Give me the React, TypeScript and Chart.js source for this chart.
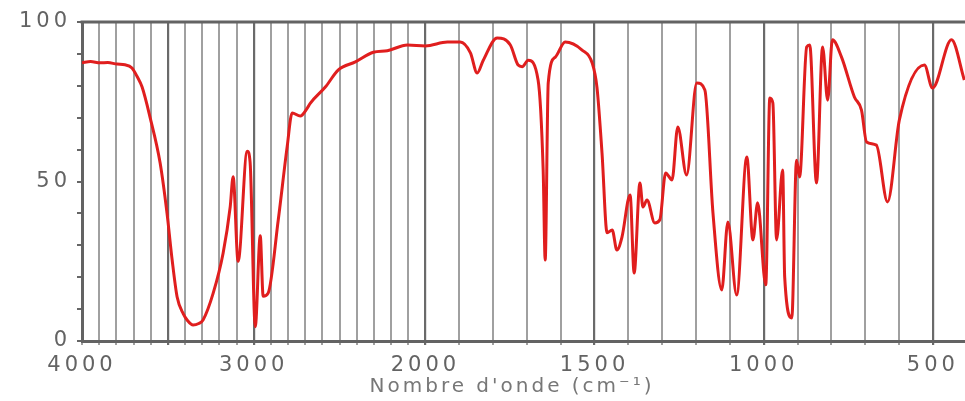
import { useEffect, useRef } from 'react';
import { Chart, registerables } from 'chart.js';

Chart.register(...registerables);

// Wavenumbers (cm-1) and transmittance (%)
const wavenumbers = [
  4000, 3950, 3895, 3850, 3796, 3750, 3709, 3680, 3650, 3604,
  3545, 3505, 3475, 3446, 3410, 3388, 3353, 3320, 3295, 3236,
  3178, 3137, 3120, 3091, 3038, 3021, 2991, 2962, 2945, 2916,
  2857, 2805, 2776, 2729, 2688, 2671, 2583, 2507, 2408, 2303,
  2222, 2105, 2000, 1935, 1897, 1867, 1847, 1829, 1788, 1749,
  1726, 1714, 1696, 1667, 1652, 1646, 1637, 1616, 1587, 1537,
  1507, 1493, 1478, 1463, 1448, 1434, 1419, 1395, 1383, 1366,
  1357, 1345, 1322, 1307, 1290, 1271, 1254, 1228, 1198, 1174,
  1150, 1124, 1106, 1080, 1050, 1032, 1018, 994, 982, 973,
  962, 944, 938, 917, 903, 894, 873, 864, 844, 826,
  811, 797, 770, 732, 711, 696, 667, 634, 599, 525,
  501, 445, 407,
];
const transmittance = [
  87.2, 87.6, 87.2, 87.3, 86.8, 86.6, 85.6, 83, 79.6, 70.2,
  55.8, 40.1, 25.4, 13.8, 8.5, 6.6, 5.0, 5.5, 6.6, 15,
  27.6, 42, 51.5, 25, 59.5, 56, 4.5, 33, 14, 15,
  38, 61, 71.5, 70.5, 73, 74.5, 79.6, 85, 87.5, 90.5,
  91, 92.8, 92.5, 93.7, 93.7, 90.3, 84, 88, 95, 92.8,
  86.5, 86, 88, 81.8, 53.6, 25.4, 80.9, 89, 93.7, 91.2,
  87.1, 79.6, 58.9, 33.9, 34.8, 28.5, 32.6, 45.8, 21.3, 49.5,
  42, 44.2, 37, 38, 52.7, 50.5, 67.1, 52, 80.9, 78.7,
  40.1, 16, 37.3, 14.4, 57.7, 31.7, 43.3, 17.6, 76.2, 74.6,
  31.7, 53.6, 20, 7.2, 56.7, 51.4, 92.2, 92.8, 49.5, 92.2,
  75.5, 94.4, 89, 76.5, 72.4, 62.4, 61.4, 43.6, 69.3, 86.5,
  79.3, 94.4, 81.8,
];

// Vertical grid lines (cm-1) and labelled ticks
const gridWavenumbers = [
  4000, 3900, 3800, 3700, 3600, 3500, 3400, 3300, 3200, 3100,
  3000, 2900, 2800, 2700, 2600, 2500, 2400, 2300, 2200, 2100,
  2000, 1900, 1800, 1700, 1600, 1500, 1400, 1300, 1200, 1100,
  1000, 900, 800, 700, 600, 500,
];
const xTickLabels = [4000, 3000, 2000, 1500, 1000, 500];
const majorGrid = [3500, 3000, 2000, 1500, 1000, 500];
const yTickLabels = [0, 50, 100];
const xMinWavenumber = 405;

// Spectrometer scale change at 2000 cm-1 (expanded below 2000)
const EXPAND = 1.97;
const toU = (w: number) => (w >= 2000 ? 4000 - w : 2000 + (2000 - w) * EXPAND);
const fromU = (u: number) => (u <= 2000 ? 4000 - u : 2000 - (u - 2000) / EXPAND);

const framePlugin = {
  id: 'frame',
  beforeDraw(chart: any) {
    (chart.ctx as any).letterSpacing = '4px';
  },
  afterDraw(chart: any) {
    const { ctx, chartArea } = chart;
    ctx.save();
    ctx.strokeStyle = '#636363';
    ctx.lineWidth = 3;
    ctx.beginPath();
    ctx.moveTo(chartArea.left - 1.5, chartArea.top);
    ctx.lineTo(chartArea.right, chartArea.top);
    ctx.stroke();
    (ctx as any).letterSpacing = '3px';
    ctx.fillStyle = '#777';
    ctx.font = '20px "DejaVu Sans"';
    ctx.textAlign = 'center';
    ctx.textBaseline = 'middle';
    ctx.fillText("Nombre d'onde (cm⁻¹)", 512, 387);
    ctx.restore();
    (ctx as any).letterSpacing = '0px';
  },
};

export default function App() {
  const ref = useRef<HTMLCanvasElement | null>(null);

  useEffect(() => {
    if (!ref.current) return;
    const chart = new Chart(ref.current, {
      type: 'line',
      data: {
        datasets: [
          {
            data: wavenumbers.map((w, i) => ({ x: toU(w), y: transmittance[i] })),
            borderColor: '#e01e1e',
            borderWidth: 3,
            pointRadius: 0,
            cubicInterpolationMode: 'monotone',
            fill: false,
          },
        ],
      },
      options: {
        animation: false,
        responsive: false,
        maintainAspectRatio: false,
        layout: { padding: { top: 22, right: 0, bottom: 0, left: 0 } },
        plugins: { legend: { display: false }, tooltip: { enabled: false } },
        scales: {
          x: {
            type: 'linear',
            min: 0,
            max: toU(xMinWavenumber),
            afterBuildTicks: (scale: any) => {
              scale.ticks = gridWavenumbers.map((w) => ({ value: toU(w) }));
            },
            afterFit: (scale: any) => {
              scale.height = 60;
            },
            ticks: {
              autoSkip: false,
              maxRotation: 0,
              padding: 8,
              color: '#636363',
              font: { family: '"DejaVu Sans"', size: 21 },
              callback: (value: any) => {
                const w = Math.round(fromU(Number(value)));
                return xTickLabels.includes(w) ? String(w) : '';
              },
            },
            grid: {
              drawOnChartArea: true,
              drawTicks: true,
              tickLength: 4,
              color: (ctx: any) => {
                const w = Math.round(fromU(ctx.tick?.value ?? 0));
                return majorGrid.includes(w) ? '#6a6a6a' : '#a0a0a0';
              },
              lineWidth: (ctx: any) => {
                const w = Math.round(fromU(ctx.tick?.value ?? 0));
                return majorGrid.includes(w) ? 2.2 : 2;
              },
            },
            border: { display: true, color: '#636363', width: 3 },
          },
          y: {
            min: 0,
            max: 100,
            afterFit: (scale: any) => {
              scale.width = 82;
            },
            ticks: {
              stepSize: 10,
              padding: 6,
              color: '#636363',
              font: { family: '"DejaVu Sans"', size: 21 },
              callback: (value: any) => (yTickLabels.includes(Number(value)) ? String(value) : ''),
            },
            grid: {
              drawOnChartArea: false,
              drawTicks: true,
              tickLength: 5,
              color: '#666',
              lineWidth: 2,
            },
            border: { display: true, color: '#636363', width: 3 },
          },
        },
      },
      plugins: [framePlugin],
    });
    return () => chart.destroy();
  }, []);

  return (
    <div style={{ position: 'fixed', left: 0, top: 0, width: 965, height: 401, background: '#fff' }}>
      <canvas ref={ref} width={965} height={401} style={{ display: 'block', width: 965, height: 401 }} />
    </div>
  );
}
